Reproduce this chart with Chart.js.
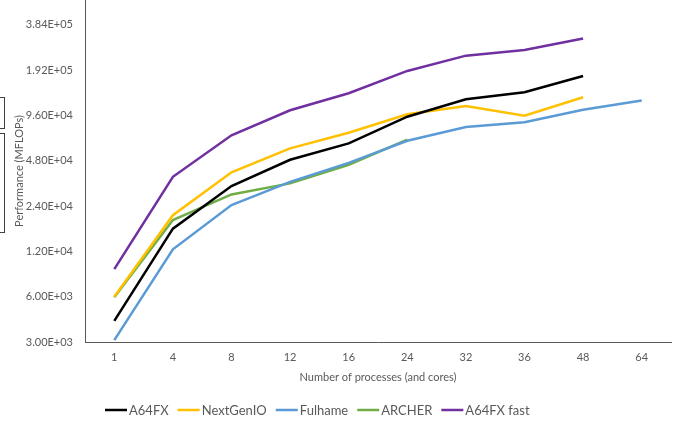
<!DOCTYPE html>
<html>
<head>
<meta charset="utf-8">
<script src="https://cdn.jsdelivr.net/npm/chart.js@4/dist/chart.umd.min.js"></script>
<style>
  html, body { margin: 0; padding: 0; background: #fff; }
  #wrap { position: relative; width: 681px; height: 424px; }
  canvas { position: absolute; left: 0; top: 0; }
  .brk { position: absolute; left: -2px; width: 5px; border: 1px solid #404040; }
</style>
</head>
<body>
<div id="wrap">
  <canvas id="c" width="681" height="424"></canvas>
  <div class="brk" style="top:97px;height:30px;"></div>
  <div class="brk" style="top:133px;height:98px;"></div>
</div>
<script>
const categories = ["1", "4", "8", "12", "16", "24", "32", "36", "48", "64"];
const seriesNames = ["A64FX", "NextGenIO", "Fulhame", "ARCHER", "A64FX fast"];
const seriesColors = ["#000000", "#FFC000", "#5B9BD5", "#70AD47", "#7030A0"];
const a64fx     = [4150, 17000, 32600, 48800, 62700, 94300, 123000, 137000, 176000, null];
const nextGenIO = [6000, 20900, 40300, 58100, 73800, 97800, 111000, 95800, 127000, null];
const fulhame   = [3090, 12400, 24400, 34800, 46500, 65200, 80500, 86500, 105000, 121000];
const archer    = [5950, 19400, 28700, 34000, 45200, 66500, null, null, null, null];
const a64fxFast = [9160, 37600, 71000, 104000, 135000, 190000, 240000, 262000, 312000, null];
const yTickValues = [3000, 6000, 12000, 24000, 48000, 96000, 192000, 384000];
const yMin = 3000;
const yMax = 562500;

const seriesData = [a64fx, nextGenIO, fulhame, archer, a64fxFast];
const FONT = "Lato";

function fmtExp(v) {
  const s = v.toExponential(2).toUpperCase();
  const m = s.match(/^([\d.]+)E([+-])(\d+)$/);
  return m[1] + "E" + m[2] + (m[3].length < 2 ? "0" + m[3] : m[3]);
}

const legendPlugin = {
  id: "customLegend",
  afterDraw(chart) {
    const ctx = chart.ctx;
    ctx.save();
    ctx.font = "13px " + FONT;
    ctx.textBaseline = "middle";
    let x = 105;
    const y = 410;
    chart.data.datasets.forEach(ds => {
      ctx.strokeStyle = ds.borderColor;
      ctx.lineWidth = 2.5;
      ctx.beginPath();
      ctx.moveTo(x, y);
      ctx.lineTo(x + 22, y);
      ctx.stroke();
      ctx.fillStyle = "#595959";
      ctx.fillText(ds.label, x + 24, y + 1);
      x += 24 + ctx.measureText(ds.label).width + 9;
    });
    ctx.restore();
  }
};

new Chart(document.getElementById("c"), {
  type: "line",
  data: {
    labels: categories,
    datasets: seriesNames.map((n, i) => ({
      label: n,
      data: seriesData[i],
      borderColor: seriesColors[i],
      backgroundColor: seriesColors[i],
      borderWidth: 2.5,
      pointRadius: 0,
      tension: 0,
      spanGaps: false
    }))
  },
  options: {
    responsive: false,
    animation: false,
    layout: { padding: { left: 0, right: 10, top: 0, bottom: 40 } },
    plugins: {
      legend: { display: false },
      tooltip: { enabled: false }
    },
    scales: {
      x: {
        offset: true,
        grid: { display: false, drawTicks: false },
        border: { display: true, color: "#595959", width: 1 },
        ticks: { color: "#595959", font: { family: FONT, size: 11 }, padding: 9 },
        title: {
          display: true,
          text: "Number of processes (and cores)",
          color: "#595959",
          font: { family: FONT, size: 11 },
          padding: { top: 4, bottom: 0 }
        },
        afterFit(scale) { scale.height = 42; scale.paddingRight = 0; scale.paddingLeft = 0; }
      },
      y: {
        type: "logarithmic",
        min: yMin,
        max: yMax,
        grid: { display: false, drawTicks: false },
        border: { display: true, color: "#595959", width: 1 },
        afterBuildTicks(scale) { scale.ticks = yTickValues.map(v => ({ value: v })); },
        ticks: {
          color: "#595959",
          font: { family: FONT, size: 11 },
          padding: 12,
          autoSkip: false,
          callback: (v) => fmtExp(v)
        },
        title: {
          display: true,
          text: "Performance (MFLOPs)",
          color: "#595959",
          font: { family: FONT, size: 11 },
          padding: { top: 13, bottom: 0 }
        },
        afterFit(scale) { scale.width = 85; scale.paddingTop = 0; scale.paddingBottom = 0; }
      }
    }
  },
  plugins: [legendPlugin]
});
</script>
</body>
</html>
